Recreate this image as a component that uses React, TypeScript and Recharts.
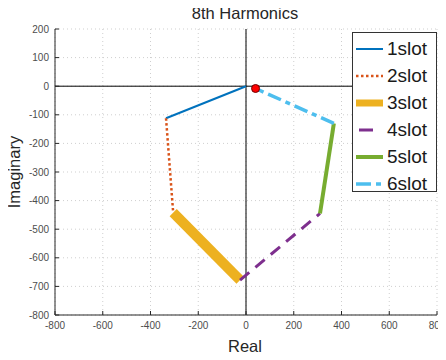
import React from "react";
import {
  ComposedChart, Line, Scatter, XAxis, YAxis, CartesianGrid, ReferenceLine, Legend,
} from "recharts";

interface Pt { x: number; y: number }

// phasor path, one segment per slot
const slot1: Pt[] = [{ x: 0, y: 0 }, { x: -335, y: -112 }];
const slot2: Pt[] = [{ x: -335, y: -112 }, { x: -305, y: -442 }];
const slot3: Pt[] = [{ x: -305, y: -442 }, { x: -25, y: -678 }];
const slot4: Pt[] = [{ x: -25, y: -678 }, { x: 310, y: -445 }];
const slot5: Pt[] = [{ x: 310, y: -445 }, { x: 368, y: -130 }];
const slot6: Pt[] = [{ x: 368, y: -130 }, { x: 40, y: -8 }];
const endPt: Pt[] = [{ x: 40, y: -8 }];

const xTicks = [-800, -600, -400, -200, 0, 200, 400, 600, 800];
const yTicks = [200, 100, 0, -100, -200, -300, -400, -500, -600, -700, -800];

const series = [
  { name: "1slot", data: slot1, color: "#0072BD", width: 2, dash: undefined as string | undefined, legendDash: undefined as string | undefined },
  { name: "2slot", data: slot2, color: "#D95319", width: 2.5, dash: "2.5 2.5", legendDash: "2.5 2.5" },
  { name: "3slot", data: slot3, color: "#EDB120", width: 10, dash: undefined, legendDash: undefined },
  { name: "4slot", data: slot4, color: "#7E2F8E", width: 3, dash: "12 8", legendDash: "0 3 14 20" },
  { name: "5slot", data: slot5, color: "#77AC30", width: 4, dash: undefined, legendDash: undefined },
  { name: "6slot", data: slot6, color: "#4DBEEE", width: 3.5, dash: "14 5 5 5", legendDash: "15 5 5 10" },
];

const font = "'Liberation Sans', Arial, Helvetica, sans-serif";
const tick = { fill: "#4d4d4d", fontSize: 10, fontFamily: font };
const blank = () => "";

function SlotLegend() {
  return (
    <div style={{ background: "#fff", border: "1px solid #333", width: 85, height: 160, boxSizing: "border-box", paddingTop: 2 }}>
      {series.map((s) => (
        <div key={s.name} style={{ display: "flex", alignItems: "center", height: 27 }}>
          <svg width={33} height={12} style={{ flex: "none" }}>
            <line x1={3} y1={6} x2={30} y2={6} stroke={s.color} strokeWidth={Math.min(s.width, 7)} strokeDasharray={s.legendDash} />
          </svg>
          <span style={{ fontFamily: font, fontSize: 19, color: "#1a1a1a", marginLeft: 1 }}>{s.name}</span>
        </div>
      ))}
    </div>
  );
}

export default function App() {
  return (
    <div style={{ position: "relative", width: 446, height: 360, margin: "-8px 0 0 -8px", background: "#fff" }}>
      <div style={{ position: "absolute", left: 0, width: 490, top: 4, textAlign: "center", fontFamily: font, fontSize: 16.5, color: "#262626" }}>
        8th Harmonics
      </div>
      <div style={{ position: "absolute", left: 0, width: 490, top: 337, textAlign: "center", fontFamily: font, fontSize: 16.5, color: "#262626" }}>
        Real
      </div>
      <div style={{ position: "absolute", left: 14, top: 172, transform: "translate(-50%, -50%) rotate(-90deg)", fontFamily: font, fontSize: 16.5, color: "#262626", whiteSpace: "nowrap" }}>
        Imaginary
      </div>
      <ComposedChart width={446} height={360} margin={{ top: 29, right: 9, left: 10, bottom: 15 }} style={{ position: "absolute", left: 0, top: 0 }}>
        <CartesianGrid stroke="#cfcfcf" strokeDasharray="1 3" />
        <XAxis type="number" dataKey="x" domain={[-800, 800]} ticks={xTicks} tick={tick} height={30}
          stroke="#262626" tickSize={-4} tickMargin={11} allowDataOverflow />
        <XAxis xAxisId="top" orientation="top" type="number" dataKey="x" domain={[-800, 800]} ticks={xTicks} height={0}
          stroke="#262626" tickSize={-4} tickFormatter={blank} allowDataOverflow />
        <YAxis type="number" dataKey="y" domain={[-800, 200]} ticks={yTicks} tick={tick} width={45}
          stroke="#262626" tickSize={-4} tickMargin={10} allowDataOverflow />
        <YAxis yAxisId="right" orientation="right" type="number" domain={[-800, 200]} ticks={yTicks} width={0}
          stroke="#262626" tickSize={-4} tickFormatter={blank} allowDataOverflow />
        <ReferenceLine x={0} stroke="#000" strokeWidth={1} />
        <ReferenceLine y={0} stroke="#000" strokeWidth={1} />
        {series.map((s) => (
          <Line key={s.name} data={s.data} dataKey="y" name={s.name} type="linear" stroke={s.color}
            strokeWidth={s.width} strokeDasharray={s.dash} dot={false} activeDot={false} isAnimationActive={false} />
        ))}
        <Scatter data={endPt} dataKey="y" fill="#ff0000" stroke="#8b0000" legendType="none" isAnimationActive={false}
          shape={(p: any) => <circle cx={p.cx} cy={p.cy} r={4} fill="#ff0000" stroke="#700000" strokeWidth={1} />} />
        <Legend layout="horizontal" verticalAlign="middle" align="center" content={() => <SlotLegend />}
          wrapperStyle={{ left: 352, top: 32, width: 85, height: 160 }} />
      </ComposedChart>
    </div>
  );
}
